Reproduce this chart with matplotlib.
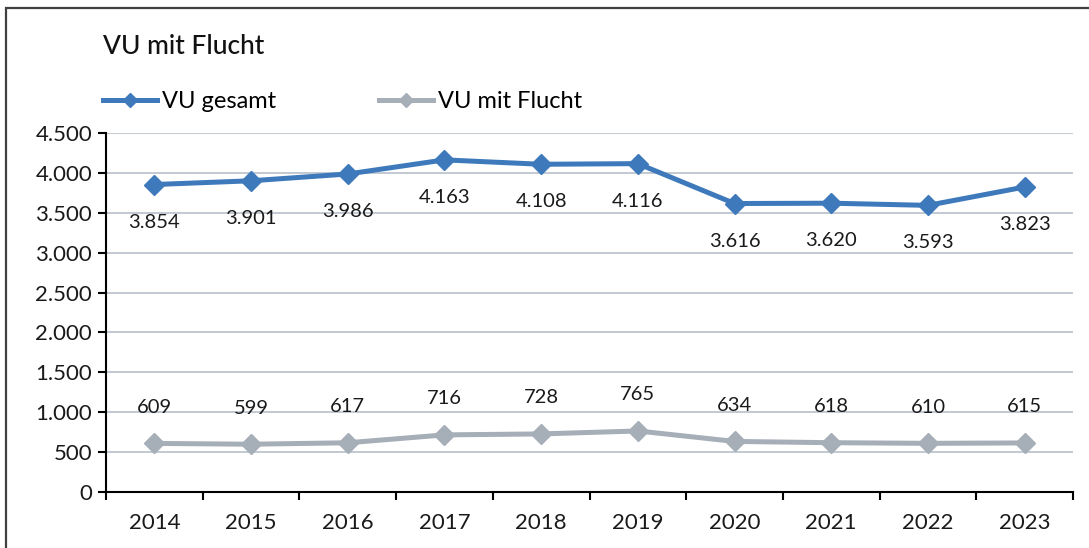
import matplotlib
matplotlib.use("Agg")
import matplotlib.pyplot as plt
from matplotlib.patches import Rectangle

years = ["2014", "2015", "2016", "2017", "2018", "2019", "2020", "2021", "2022", "2023"]
vu_gesamt = [3854, 3901, 3986, 4163, 4108, 4116, 3616, 3620, 3593, 3823]
vu_flucht = [609, 599, 617, 716, 728, 765, 634, 618, 610, 615]
yticks = [0, 500, 1000, 1500, 2000, 2500, 3000, 3500, 4000, 4500]

BLUE = "#3D79BB"
GRAY = "#A6AEB7"
GRID = "#B8C0CA"

plt.rcParams['font.family'] = ['Lato', 'DejaVu Sans']

def fmt(v):
    return f"{v:,}".replace(",", ".")

fig = plt.figure(figsize=(10.89, 5.48), dpi=100)
W, H = 1089, 548
ax = fig.add_axes([106 / W, 1 - 492 / H, (1073 - 106) / W, (492 - 133) / H])

x = list(range(len(years)))
ax.plot(x, vu_gesamt, color=BLUE, lw=3.6, marker="D", ms=10, label="VU gesamt", solid_joinstyle="round")
ax.plot(x, vu_flucht, color=GRAY, lw=3.6, marker="D", ms=10, label="VU mit Flucht", solid_joinstyle="round")

for xi, v in zip(x, vu_gesamt):
    ax.annotate(fmt(v), (xi, v), xytext=(0, -27), textcoords="offset points",
                ha="center", va="center", fontsize=14.5, color="#1a1a1a")
for xi, v in zip(x, vu_flucht):
    ax.annotate(fmt(v), (xi, v), xytext=(0, 26), textcoords="offset points",
                ha="center", va="center", fontsize=14.5, color="#1a1a1a")

ax.set_xlim(-0.5, len(years) - 0.5)
ax.set_ylim(0, 4500)
ax.set_yticks(yticks)
ax.set_yticklabels([fmt(t) for t in yticks], fontsize=16, color="#1a1a1a")
ax.set_xticks(x)
ax.set_xticklabels(years, fontsize=16, color="#1a1a1a")
ax.tick_params(axis="x", length=0, pad=15)
ax.set_xticks([i - 0.5 for i in range(len(years) + 1)], minor=True)
ax.tick_params(axis="x", which="minor", length=6, width=1.5, direction="out")
ax.tick_params(axis="y", length=6, width=1.5, direction="out", pad=4)

ax.grid(axis="y", color=GRID, lw=1.2)
ax.set_axisbelow(True)
for s in ["top", "right"]:
    ax.spines[s].set_visible(False)
for s in ["left", "bottom"]:
    ax.spines[s].set_linewidth(1.5)
    ax.spines[s].set_color("black")

leg = ax.legend(loc="center left", bbox_to_anchor=(-0.003, 1.087), ncol=2, frameon=False,
                fontsize=17, handlelength=2.3, handletextpad=0.2, columnspacing=4.35,
                borderaxespad=0, borderpad=0, markerscale=0.75)

fig.text(103 / W, 1 - 47 / H, "VU mit Flucht", fontsize=19, ha="left", va="center",
         color="#111111", fontweight="medium")

fig.patches.append(Rectangle((6 / W, -0.1), 1.2, 1 - 8 / H + 0.1, transform=fig.transFigure,
                             fill=False, edgecolor="#404040", lw=1.6, zorder=10))

fig.savefig("out.png", dpi=100)
